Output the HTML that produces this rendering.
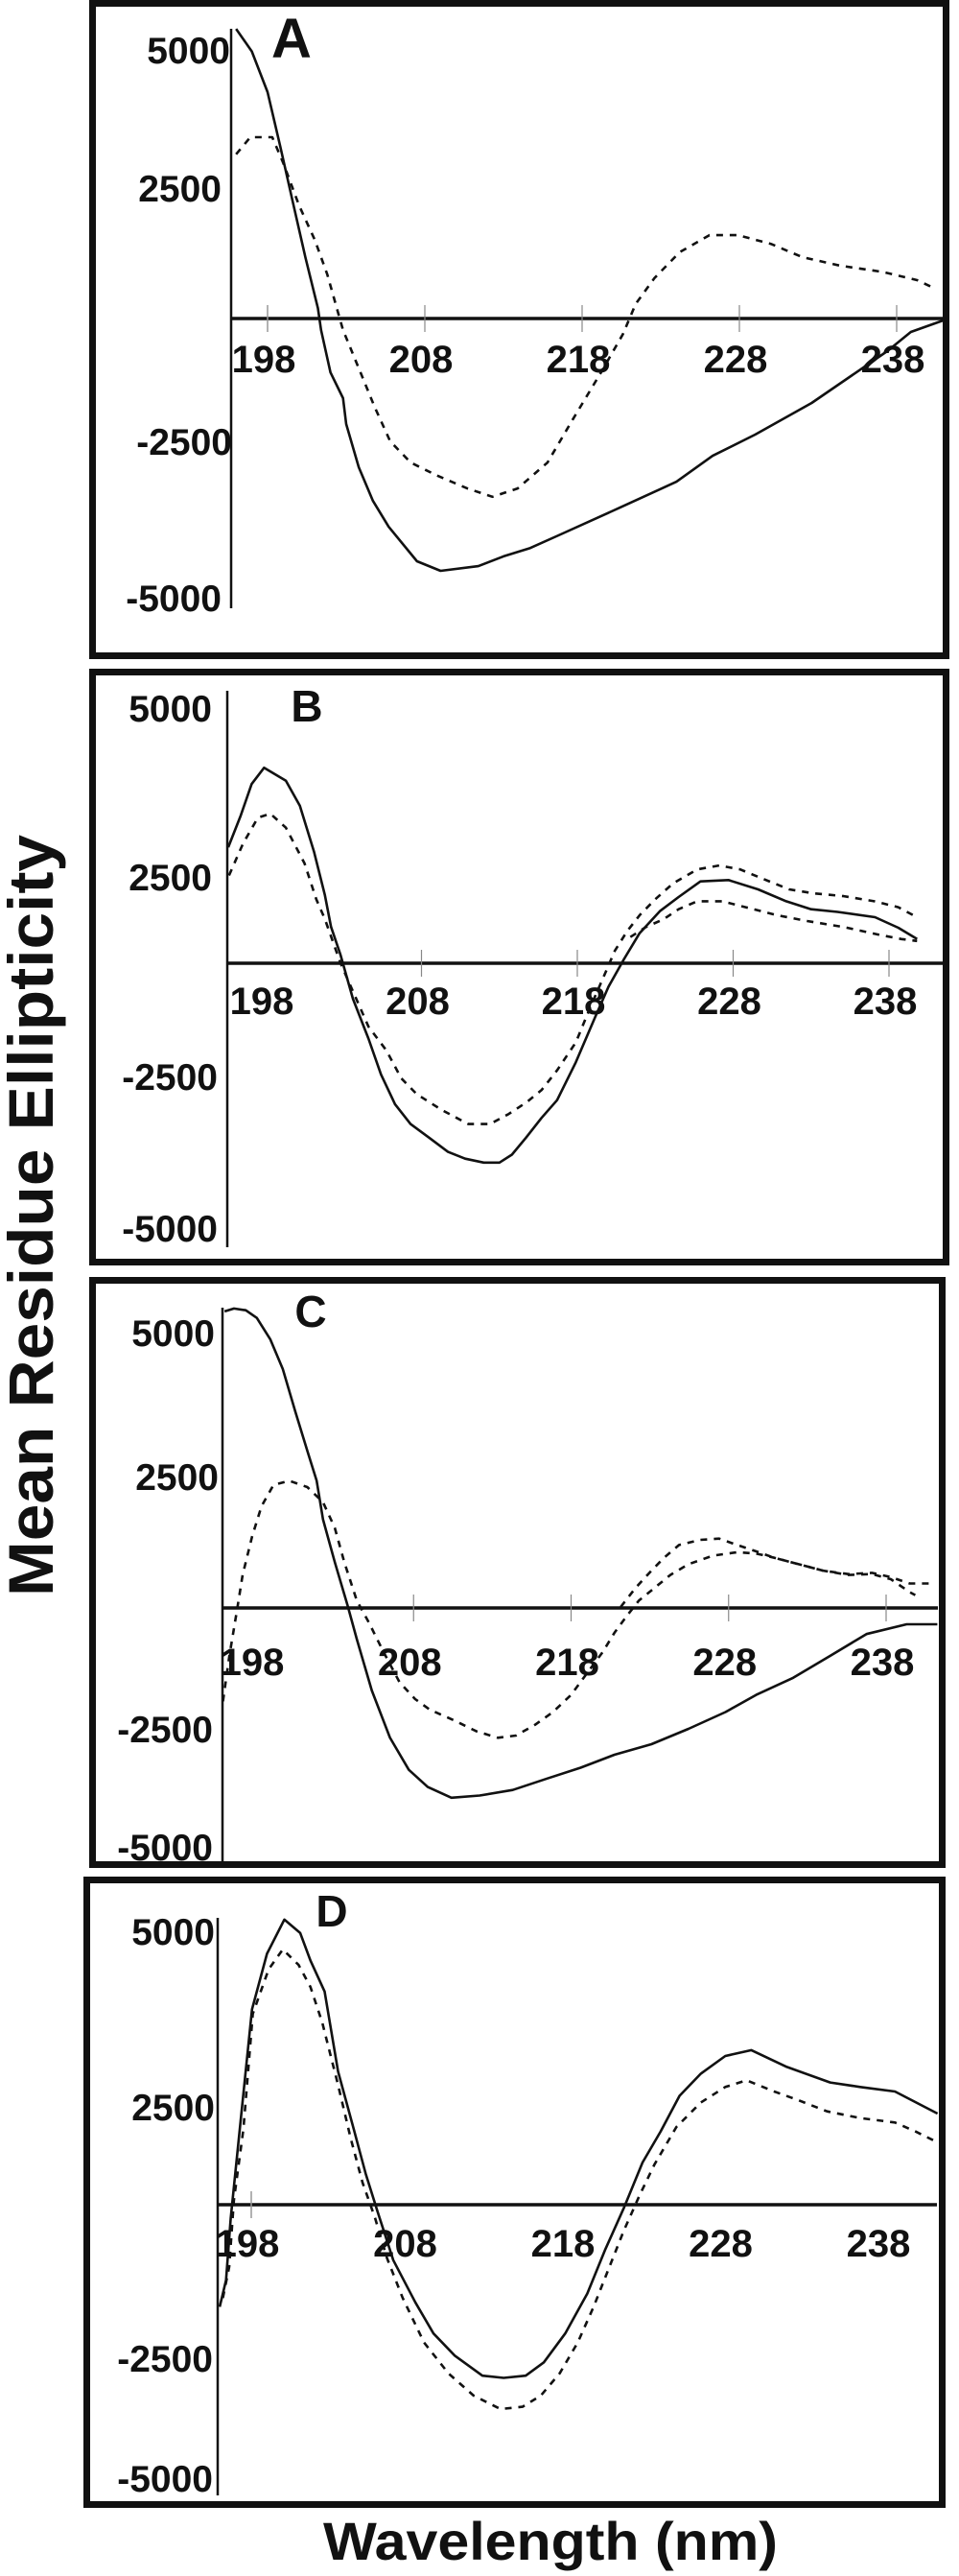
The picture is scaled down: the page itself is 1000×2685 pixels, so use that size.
<!DOCTYPE html>
<html><head><meta charset="utf-8">
<style>
html,body{margin:0;padding:0;background:#fff;}
svg{display:block;}
text{font-family:"Liberation Sans",Arial,sans-serif;font-weight:bold;fill:#111;}
</style></head>
<body>
<svg id="fig" width="1000" height="2685" viewBox="0 0 1000 2685" xmlns="http://www.w3.org/2000/svg">
<rect x="0" y="0" width="1000" height="2685" fill="#fff"/>
<text transform="translate(55,1267) rotate(-90)" text-anchor="middle" font-size="66" textLength="794" lengthAdjust="spacingAndGlyphs">Mean Residue Ellipticity</text>
<text x="574" y="2668" text-anchor="middle" font-size="56" textLength="474" lengthAdjust="spacingAndGlyphs">Wavelength (nm)</text>
</svg>
<script>
// ---- data (wavelength nm / mean residue ellipticity) ----
const xTickLabels = ["198","208","218","228","238"];
const xTickValues = [198,208,218,228,238];
const yTickLabels = ["5000","2500","-2500","-5000"];

const aSolidNm  = [196,197,198,198.8,199.6,200.4,201.2,201.4,202,202.8,203,203.8,204.7,205.7,207.5,209,211.4,213,214.7,216.5,220.4,224,226.3,229,232.6,235,237.4,238.9,241.3];
const aSolidVal = [5590,5155,4370,3333,2260,1185,200,-222,-1040,-1537,-2037,-2870,-3520,-4020,-4685,-4870,-4780,-4590,-4430,-4185,-3650,-3150,-2650,-2240,-1630,-1130,-630,-260,0];
const aDashNm   = [196,196.9,198.3,199,200,201,201.8,202.4,202.8,203.8,204.8,205.8,207.1,208.7,210.7,212.3,213.9,215.8,217.4,219.2,220.6,221.4,222.6,224.2,226.1,227.9,230,232,234.4,237.1,239.3,240.5];
const aDashVal  = [3170,3500,3500,3000,2185,1520,850,200,-222,-960,-1700,-2370,-2780,-3020,-3280,-3440,-3280,-2780,-1950,-1040,-300,280,780,1280,1610,1610,1440,1185,1020,900,740,570];

const bSolidNm  = [195.6,196.4,197.1,197.9,199.3,200.2,201.1,201.8,202.2,202.8,203.6,204.6,205.4,206.3,207.3,208.5,209.7,210.8,212,213,213.8,214.7,215.7,216.7,217.9,219.1,220,221,222,223.3,224.5,225.9,227.7,229.6,231.4,233,234.7,237.1,238.6,239.8];
const bSolidVal = [2214,2818,3422,3733,3484,3005,2132,1299,695,165,-677,-1437,-2123,-2690,-3069,-3331,-3600,-3730,-3806,-3806,-3653,-3331,-2955,-2613,-1892,-1056,-448,82,576,994,1263,1563,1587,1411,1184,1032,979,880,677,461];
const bDash1Nm  = [195.65,196.55,197.5,198.3,199.3,200.5,201.25,201.8,202.8,204.6,205.75,206.7,207.7,209.3,211,212.4,213.6,214.75,215.7,216.7,217.9,218.85,219.85,220.4,221.2,222,223,224.15,225.7,227.1,228.45,230,231.6,233.15,235.1,237.05,238.6,239.8];
const bDash1Val = [1676,2284,2778,2855,2588,1905,1221,842,6,-1208,-1665,-2196,-2500,-2800,-3069,-3069,-2878,-2652,-2423,-2044,-1512,-829,-146,234,613,917,1221,1525,1791,1867,1791,1601,1411,1336,1281,1184,1069,878];
const bDash2Nm  = [221.4,222.4,223.55,224.5,225.7,227.3,228.8,230.8,232.75,235.1,237.45,238.8,239.8];
const bDash2Val = [500,690,842,1032,1184,1184,1069,917,805,690,538,461,424];

const cSolidNm  = [196,196.6,197.35,198.05,198.9,199.7,200.5,201.25,201.85,202.25,203,203.8,204.4,205.35,206.5,207.7,208.9,210.4,212.2,214.3,216.5,218.6,220.75,223.1,225.45,227.8,229.75,232.1,234.4,236.75,239.3,241.25];
const cSolidVal = [5766,5822,5790,5640,5225,4646,3807,3060,2474,1724,892,58,-608,-1605,-2520,-3148,-3482,-3690,-3648,-3540,-3316,-3107,-2855,-2650,-2351,-2025,-1690,-1358,-941,-508,-317,-317];
const cDash1Nm  = [195.9,196.3,196.8,197.15,197.75,198.35,199.1,200.1,201.25,202.25,203,203.6,204.4,205.15,206.1,207.1,208.1,209.05,210.6,212,213.35,214.5,215.7,216.85,218,219,220,220.75,221.55,222.3,223.3,224.3,225.45,227,228.55,229.75,230.9,232.45,234,235.6,237.1,238.3,239.5,239.85];
const cDash1Val = [-1816,-941,-25,641,1391,1978,2390,2474,2350,2058,1558,892,142,-274,-858,-1441,-1773,-1982,-2191,-2400,-2524,-2482,-2275,-2025,-1690,-1274,-858,-483,-149,142,392,641,850,1017,1084,1058,975,850,726,641,658,559,308,250];
const cDash2Nm  = [221.15,222.1,223.1,223.9,224.85,226.2,227.4,228.55,229.75,230.9,232.45,234,235.6,237.1,238.3,239.5,241.1];
const cDash2Val = [18,392,726,975,1224,1324,1349,1224,1100,975,850,726,658,683,600,476,476];

const dSolidNm  = [196,196.4,196.7,197.3,198.05,199,200.1,201.1,201.75,202.65,203.5,204.5,205.25,206,207,208.4,209.55,210.9,212.65,214,215.4,216.55,217.9,219.3,220.45,221.65,222.8,223.95,225.15,226.5,228.05,229.7,231.95,234.7,236.6,238.8,241.5];
const dSolidVal = [-1866,-1380,-244,1463,3573,4589,5214,4970,4467,3899,2438,1380,568,-121,-1014,-1786,-2354,-2760,-3126,-3166,-3126,-2882,-2354,-1624,-812,-40,772,1340,1991,2396,2720,2826,2519,2235,2152,2071,1666];
const dDashNm   = [196.2,196.6,196.9,197.5,198.1,199.1,200,201,201.75,202.5,203.5,204.3,205.05,205.85,206.6,207.6,208.95,210.5,212.1,213.8,215.2,216.35,217.55,218.7,219.7,220.65,221.6,222.6,223.55,224.95,226.5,228.05,229.4,231.15,232.7,234.5,236.6,238.8,240.1,241.5];
const dDashVal  = [-1705,-1137,82,1380,3492,4304,4669,4385,3982,3333,2192,1219,407,-244,-973,-1705,-2517,-3085,-3491,-3736,-3694,-3491,-3085,-2517,-1866,-1175,-486,163,731,1421,1868,2152,2275,2071,1908,1707,1584,1503,1340,1140];

// ---- layout (pixel geometry, not data) ----
const panels = [
 {id:"a",letter:"A",frame:[96.5,3.5,890,680],axisX:241,axisTop:30,axisBot:634,x198:279,x238:935,y0:332,p2500:135,zeroEnd:986,
  ylab:[[240,52],[231,196],[242,460],[231,623]],xlabY:388,letterPos:[304,60,58],bigTick:true,
  series:[[aSolidNm,aSolidVal,false],[aDashNm,aDashVal,true]]},
 {id:"b",letter:"B",frame:[96.5,700.5,890,615],axisX:237,axisTop:720,axisBot:1300,x198:277,x238:927,y0:1004,p2500:136.5,zeroEnd:983,
  ylab:[[221,738],[221,914],[227,1122],[227,1280]],xlabY:1057,letterPos:[320,752,46],bigTick:false,
  series:[[bSolidNm,bSolidVal,false],[bDash1Nm,bDash1Val,true],[bDash2Nm,bDash2Val,true]]},
 {id:"c",letter:"C",frame:[96.5,1334.5,886,609],axisX:232,axisTop:1363,axisBot:1940,x198:267,x238:924,y0:1676,p2500:134,zeroEnd:978,
  ylab:[[224,1389],[228,1539],[222,1802],[222,1925]],xlabY:1746,letterPos:[324,1383,46],bigTick:false,
  series:[[cSolidNm,cSolidVal,false],[cDash1Nm,cDash1Val,true],[cDash2Nm,cDash2Val,true]]},
 {id:"d",letter:"D",frame:[90.5,1959.5,892,651],axisX:227,axisTop:1999,axisBot:2601,x198:262,x238:920,y0:2298,p2500:142.5,zeroEnd:977,
  ylab:[[224,2013],[224,2196],[222,2458],[222,2583]],xlabY:2352,letterPos:[346,2008,46],bigTick:true,noSmallTicks:true,
  series:[[dSolidNm,dSolidVal,false],[dDashNm,dDashVal,true]]}
];

const NS="http://www.w3.org/2000/svg";
const svg=document.getElementById('fig');
function mk(tag,attrs,parent){const e=document.createElementNS(NS,tag);for(const k in attrs)e.setAttribute(k,attrs[k]);(parent||svg).appendChild(e);return e;}

panels.forEach(P=>{
  const xs=nm=>P.x198+(nm-198)*(P.x238-P.x198)/40;
  const ys=v=>P.y0-v*P.p2500/2500;
  const g=mk('g',{});
  
  
  const fr=mk('rect',{x:P.frame[0],y:P.frame[1],width:P.frame[2],height:P.frame[3],fill:'none',stroke:'#111','stroke-width':7},g);
  
  
  const ya=mk('line',{x1:P.axisX,y1:P.axisTop,x2:P.axisX,y2:P.axisBot,stroke:'#111','stroke-width':2.5},g);
  
  
  const zl=mk('line',{x1:P.axisX,y1:ys(0),x2:P.zeroEnd,y2:ys(0),stroke:'#111','stroke-width':3.5},g);
  
  
  xTickValues.forEach((t,i)=>{
    const x=xs(t);
    if(i===0){
      if(P.bigTick){const tk=mk('line',{x1:x,y1:ys(0)-14,x2:x,y2:ys(0)+14,stroke:'#999','stroke-width':1.5},g);
      
      }
    } else if(!P.noSmallTicks){
      const tk=mk('line',{x1:x,y1:ys(0)-14,x2:x,y2:ys(0)+14,stroke:'#888','stroke-width':1.2},g);
      
      
    }
    const tl=mk('text',{x:x-4,y:P.xlabY,'text-anchor':'middle','font-size':40},g);
    tl.textContent=xTickLabels[i];
    
    
  });
  yTickLabels.forEach((l,i)=>{
    const t=mk('text',{x:P.ylab[i][0],y:P.ylab[i][1]+14,'text-anchor':'end','font-size':39},g);
    t.textContent=l;
    
    
  });
  const lt=mk('text',{x:P.letterPos[0],y:P.letterPos[1],'text-anchor':'middle','font-size':P.letterPos[2]},g);
  lt.textContent=P.letter;
  
  
  P.series.forEach((s,k)=>{
    const pts=s[0].map((nm,j)=>xs(nm).toFixed(1)+','+ys(s[1][j]).toFixed(1)).join(' ');
    const pl=mk('polyline',{points:pts,fill:'none',stroke:'#111','stroke-width':2.6,'stroke-linejoin':'round'},g);
    if(s[2]) pl.setAttribute('stroke-dasharray','7 7');
    
    
  });
});
</script>
</body></html>
